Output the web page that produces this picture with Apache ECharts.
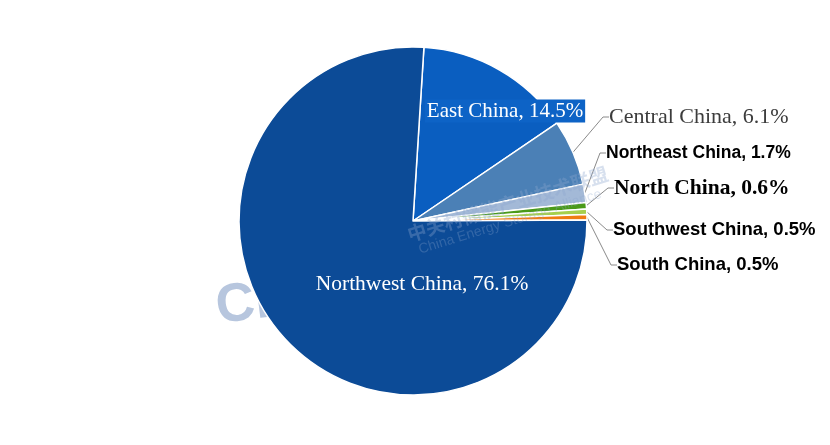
<!DOCTYPE html>
<html>
<head>
<meta charset="utf-8">
<script src="https://cdn.jsdelivr.net/npm/echarts@6/dist/echarts.min.js"></script>
<style>
html,body{margin:0;padding:0;background:#fff;}
#chart{width:830px;height:445px;}
</style>
</head>
<body>
<div id="chart"></div>
<script>
var categories = ['East China','Central China','Northeast China','North China','Southwest China','South China','Northwest China'];
var shares = [14.5, 6.1, 1.7, 0.6, 0.5, 0.5, 76.1];
var sliceColors = ['#0a5ec0','#4b80b6','#a3b9d7','#4a9a18','#a6cf4c','#ef7b12','#0c4b97'];

var labelStyles = [
  {fontFamily:'Liberation Serif', fontSize:21, color:'#ffffff', fontWeight:'normal', backgroundColor:'#0d63c6', padding:[1,2,1,2]},
  {fontFamily:'Liberation Serif', fontSize:22, color:'#3c3c3c', fontWeight:'normal'},
  {fontFamily:'Liberation Sans', fontSize:17.5, color:'#000000', fontWeight:'bold'},
  {fontFamily:'Liberation Serif', fontSize:21.5, color:'#000000', fontWeight:'bold'},
  {fontFamily:'Liberation Sans', fontSize:18.5, color:'#000000', fontWeight:'bold'},
  {fontFamily:'Liberation Sans', fontSize:18.5, color:'#000000', fontWeight:'bold'},
  {fontFamily:'Liberation Serif', fontSize:21.5, color:'#ffffff', fontWeight:'normal'}
];
var labelPos = [
  {x:505, y:111, align:'center'},
  {x:609, y:117, align:'left'},
  {x:606, y:153, align:'left'},
  {x:614, y:188, align:'left'},
  {x:613, y:230, align:'left'},
  {x:617, y:265, align:'left'},
  {x:422, y:284, align:'center'}
];
var insideIdx = [0, 6];

var data = categories.map(function(c, i){
  var inside = insideIdx.indexOf(i) >= 0;
  var ls = labelStyles[i];
  return {
    name: c,
    value: shares[i],
    itemStyle: {color: sliceColors[i]},
    label: Object.assign({show:true, position: inside ? 'inside' : 'outside'}, ls),
    labelLine: {show: !inside, length: 12, length2: 6, lineStyle:{color:'#8a8a8a', width:1}}
  };
});

var chart = echarts.init(document.getElementById('chart'), null, {renderer:'canvas'});
chart.setOption({
  backgroundColor: '#ffffff',
  animation: false,
  graphic: [
    {type:'text', left:213, top:272, z:0, rotation:0.12,
     style:{text:'CN', font:'bold 54px Liberation Sans', fill:'#b7c6de'}},
    {type:'text', left:405, top:164, z:100, rotation:0.3,
     style:{text:'中关村储能产业技术联盟', font:'bold 19px "Noto Sans CJK SC"', fill:'rgba(140,165,205,0.35)'}},
    {type:'text', left:417, top:187, z:100, rotation:0.3,
     style:{text:'China Energy Storage Alliance', font:'14px Liberation Sans', fill:'rgba(140,165,205,0.3)'}}
  ],
  series: [{
    type: 'pie',
    center: [413, 221],
    radius: [0, 174],
    startAngle: 86.4,
    clockwise: true,
    avoidLabelOverlap: false,
    z: 2,
    itemStyle: {borderColor:'#ffffff', borderWidth:1.5},
    label: {formatter: function(p){ return p.name + ', ' + p.value.toFixed(1) + '%'; }},
    emphasis: {disabled: true},
    labelLayout: function(p){
      var lp = labelPos[p.dataIndex];
      return {x: lp.x, y: lp.y, align: lp.align, verticalAlign: 'middle'};
    },
    data: data
  }]
});
</script>
</body>
</html>
